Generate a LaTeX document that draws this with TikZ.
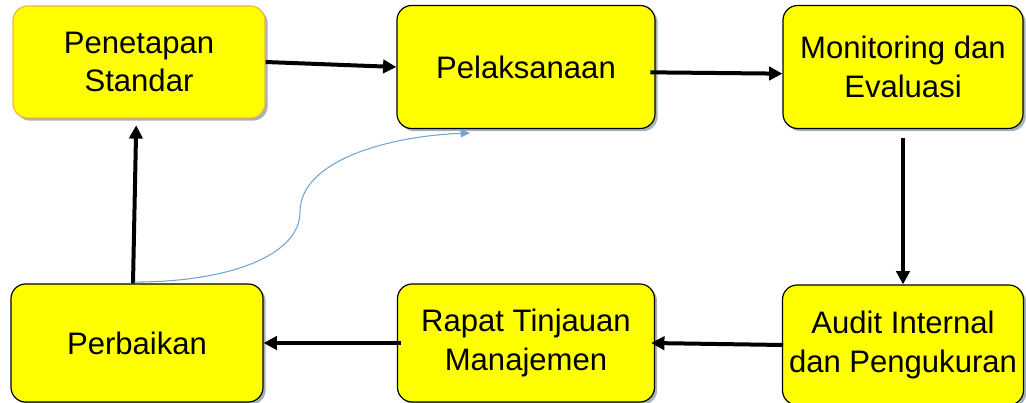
\documentclass[tikz,border=0pt]{standalone}
\usepackage{fontspec}
\setmainfont{Liberation Sans}
\usetikzlibrary{arrows.meta,shadows}
\definecolor{boxyellow}{HTML}{FFFF00}
\definecolor{orangeedge}{HTML}{F2B440}
\definecolor{curveblue}{HTML}{6FA5D8}
\definecolor{shadowgray}{HTML}{8D9FAE}
\begin{document}
\begin{tikzpicture}[x=0.75pt,y=-0.75pt,
  stepbox/.style={draw=black, line width=0.9pt, fill=boxyellow, rounded corners=11pt,
    align=center, inner sep=0pt, font=\fontsize{23.3}{29}\selectfont,
    drop shadow={shadow xshift=2pt, shadow yshift=-2pt, fill=shadowgray, opacity=0.8}},
  flow/.style={line width=3pt, -{Triangle[length=10pt,width=10pt]}},
  thin curve/.style={draw=curveblue, line width=0.8pt, -{Triangle[length=7pt,width=6pt]}}]
\useasboundingbox (0,0) rectangle (1026,403);
\node[stepbox, draw=orangeedge, minimum width=252*0.75pt, minimum height=112*0.75pt] (pen) at (139,62) {Penetapan\\Standar};
\node[stepbox, minimum width=258*0.75pt, minimum height=123*0.75pt] (pel) at (526,67) {Pelaksanaan};
\node[stepbox, minimum width=240*0.75pt, minimum height=123*0.75pt] (mon) at (903,67) {Monitoring dan\\Evaluasi};
\node[stepbox, minimum width=252*0.75pt, minimum height=118*0.75pt] (per) at (137,343) {Perbaikan};
\node[stepbox, minimum width=257*0.75pt, minimum height=118*0.75pt] (rap) at (526,343) {Rapat Tinjauan\\Manajemen};
\node[stepbox, minimum width=241*0.75pt, minimum height=120*0.75pt] (aud) at (903,345) {Audit Internal\\dan Pengukuran};
\draw[flow] (pen.east) -- (pel.west);
\draw[flow] ([xshift=-4pt,yshift=-4pt]pel.east) -- ([yshift=-5pt]mon.west);
\draw[flow, shorten <=7pt] (mon.south) -- (aud.north);
\draw[flow] ([xshift=1pt]aud.west) -- ([xshift=-3pt]rap.east);
\draw[flow] ([xshift=3pt]rap.west) -- (per.east);
\draw[flow, shorten >=5pt] ([xshift=-3pt]per.north) -- ([xshift=-2pt]pen.south);
\coordinate (cend) at (470,133);
\draw[thin curve] ([xshift=-2pt,yshift=1pt]per.north) .. controls (230,282) and (300,255) .. (300,212)
  .. controls (300,160) and (390,136) .. (cend);
\end{tikzpicture}
\end{document}
